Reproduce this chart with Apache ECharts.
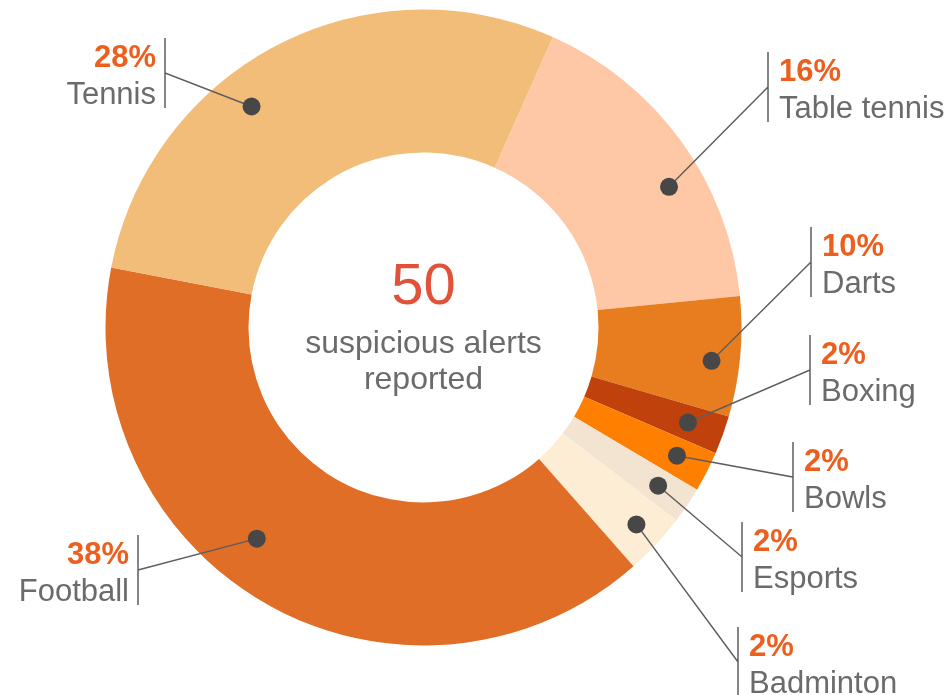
<!DOCTYPE html>
<html>
<head>
<meta charset="utf-8">
<title>Suspicious alerts by sport</title>
<script src="https://cdn.jsdelivr.net/npm/echarts@6/dist/echarts.min.js"></script>
<style>
  html, body { margin: 0; padding: 0; background: #fff; }
  #container1 { width: 950px; height: 695px; }
</style>
</head>
<body>
<div id="container1"></div>
<script>
// slices, clockwise from the top right
var sports = ['Table tennis', 'Darts', 'Boxing', 'Bowls', 'Esports', 'Badminton', 'Football', 'Tennis'];
// share of the ring as it is drawn (%)
var ringShare = [16.75, 6.1, 1.95, 2.05, 1.85, 3.15, 39.5, 28.65];
// percentages printed on the labels
var labelPct = [16, 10, 2, 2, 2, 2, 38, 28];
var totalAlerts = 50;

var sliceColors = ['#fec8a6', '#e87d20', '#c0410b', '#ff7f00', '#f2e4d0', '#feedd5', '#e06e27', '#f2bd78'];

// label bars: x, middle y, side of the text
var labelSpots = [
    [768, 87, 'right'],
    [811, 262, 'right'],
    [810, 370, 'right'],
    [793, 477, 'right'],
    [742, 557, 'right'],
    [738, 662, 'right'],
    [138, 570, 'left'],
    [165, 73, 'left']
];
// where the dot sits across each slice (0 = start, 1 = end) and its distance from the centre
var dotAcross = [0.6, 0.56, 0.5, 0.48, 0.5, 0.48, 0.56, 0.4];
var dotDist = [283, 290, 281, 284, 283, 290, 269, 280];

var center = [423.5, 327.5];
var startAngle = 66;
var outerR = 318;
var fontName = '"Liberation Sans", Arial, Helvetica, sans-serif';

var total = ringShare.reduce(function (a, b) { return a + b; }, 0);
var dotAngle = [];
var acc = 0;
ringShare.forEach(function (v, i) {
    dotAngle.push(acc + v * dotAcross[i]);
    acc += v;
});

var pieData = sports.map(function (name, i) {
    return { name: name, value: ringShare[i], itemStyle: { color: sliceColors[i] } };
});

var dom = document.getElementById('container1');
var myChart = echarts.init(dom);

var option = {
    animation: false,
    polar: {
        center: center,
        radius: outerR
    },
    angleAxis: {
        type: 'value',
        min: 0,
        max: total,
        startAngle: startAngle,
        clockwise: true,
        show: false
    },
    radiusAxis: {
        type: 'value',
        min: 0,
        max: outerR,
        show: false
    },
    graphic: [
        {
            type: 'text',
            x: center[0],
            y: 288,
            silent: true,
            style: {
                text: String(totalAlerts),
                fill: '#e0533a',
                fontSize: 58,
                fontFamily: fontName,
                align: 'center',
                verticalAlign: 'middle'
            }
        },
        {
            type: 'text',
            x: center[0],
            y: 362,
            silent: true,
            style: {
                text: 'suspicious alerts\nreported',
                fill: '#6b6b6b',
                fontSize: 32,
                lineHeight: 36,
                fontFamily: fontName,
                align: 'center',
                verticalAlign: 'middle'
            }
        }
    ],
    series: [
        {
            // the ring
            type: 'pie',
            z: 1,
            center: center,
            radius: [175, outerR],
            startAngle: startAngle,
            clockwise: true,
            silent: true,
            emphasis: { disabled: true },
            itemStyle: { borderWidth: 0 },
            label: { show: false },
            labelLine: { show: false },
            data: pieData
        },
        {
            // carries the labels and leader lines, starting at the dots
            type: 'pie',
            z: 3,
            center: center,
            radius: [0, 100],
            startAngle: startAngle,
            clockwise: true,
            silent: true,
            avoidLabelOverlap: false,
            emphasis: { disabled: true },
            itemStyle: { color: 'rgba(0,0,0,0)', borderWidth: 0 },
            label: {
                show: true,
                position: 'outside',
                formatter: function (p) {
                    return '{p|' + labelPct[p.dataIndex] + '%}\n{n|' + p.name + '}';
                },
                rich: {
                    p: {
                        fontSize: 31,
                        fontWeight: 'bold',
                        color: '#ec5f1f',
                        fontFamily: fontName,
                        lineHeight: 37
                    },
                    n: {
                        fontSize: 31,
                        color: '#6b6b6b',
                        fontFamily: fontName,
                        lineHeight: 37
                    }
                }
            },
            labelLine: {
                show: true,
                smooth: false,
                lineStyle: { color: '#5e5e5e', width: 1.5 }
            },
            labelLayout: function (params) {
                var i = params.dataIndex;
                var spot = labelSpots[i];
                var left = spot[2] === 'left';
                var a = (startAngle - 360 * dotAngle[i] / total) * Math.PI / 180;
                var start = [center[0] + dotDist[i] * Math.cos(a), center[1] - dotDist[i] * Math.sin(a)];
                return {
                    x: left ? spot[0] - 9 : spot[0] + 11,
                    y: spot[1] + 4,
                    align: left ? 'right' : 'left',
                    verticalAlign: 'middle',
                    labelLinePoints: [
                        start,
                        [spot[0], spot[1]],
                        [spot[0], spot[1] - 35],
                        [spot[0], spot[1] + 35]
                    ]
                };
            },
            data: pieData.map(function (d) { return { name: d.name, value: d.value }; })
        },
        {
            // the dots
            type: 'scatter',
            coordinateSystem: 'polar',
            silent: true,
            symbol: 'circle',
            symbolSize: 18,
            z: 5,
            itemStyle: { color: '#474747', opacity: 1 },
            data: dotAngle.map(function (m, i) { return [dotDist[i], m]; })
        }
    ]
};

if (option && typeof option === 'object') {
    myChart.setOption(option, true);
}
</script>
</body>
</html>
